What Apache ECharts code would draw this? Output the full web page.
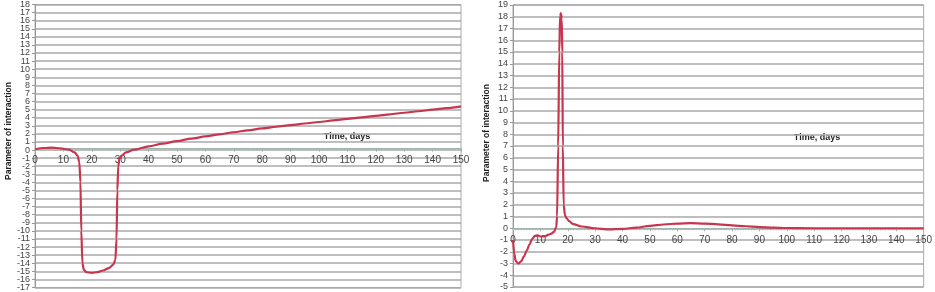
<!DOCTYPE html>
<html>
<head>
<meta charset="utf-8">
<script src="https://cdn.jsdelivr.net/npm/echarts@6/dist/echarts.min.js"></script>
<style>
  html, body { margin: 0; padding: 0; background: #fff; }
  #main { width: 935px; height: 292px; }
</style>
</head>
<body>
<div id="main"></div>
<script>
// left panel: parameter of interaction over time
var leftDays = [0, 3, 6, 9, 12, 14, 15, 15.6, 16, 16.3, 16.7, 17.2, 18, 20, 22, 24, 26, 27.5, 28.3, 28.7, 29, 29.3, 29.8, 30.5, 32, 35, 40, 45, 50, 55, 60, 65, 70, 75, 80, 85, 90, 95, 100, 105, 110, 115, 120, 125, 130, 135, 140, 145, 150];
var leftValues = [0.1, 0.25, 0.3, 0.2, 0.05, -0.3, -0.7, -1.5, -4, -10, -14, -14.8, -15.1, -15.2, -15.1, -14.9, -14.6, -14.2, -13.6, -11, -5, -2, -1, -0.7, -0.3, 0.05, 0.45, 0.8, 1.1, 1.4, 1.68, 1.95, 2.2, 2.44, 2.67, 2.88, 3.08, 3.28, 3.47, 3.66, 3.85, 4.04, 4.23, 4.42, 4.61, 4.8, 4.99, 5.18, 5.4];
var leftTicks = ['-17', '-16', '-15', '-14', '-13', '-12', '-11', '-10', '-9', '-8', '-7', '-6', '-5', '-4', '-3', '-2', '-1', '0', '1', '2', '3', '4', '5', '6', '7', '8', '9', '10', '11', '12', '13', '14', '15', '16', '17', '18'];

// right panel
var rightDays = [0, 0.5, 1, 2, 3, 4, 5, 6, 7, 8, 9, 10, 11, 12, 13, 14, 15, 15.8, 16.1, 16.5, 16.9, 17.2, 17.5, 17.8, 18.0, 18.2, 18.5, 19, 19.6, 20.5, 22, 25, 30, 35, 40, 45, 50, 55, 60, 65, 70, 75, 80, 85, 90, 95, 100, 110, 120, 130, 140, 150];
var rightValues = [-1.0, -2.2, -2.8, -3.0, -2.8, -2.4, -1.9, -1.4, -0.9, -0.65, -0.6, -0.7, -0.7, -0.65, -0.55, -0.45, -0.3, 0.1, 1, 7, 15, 18.1, 18.3, 17.8, 15, 7, 2, 1.1, 0.85, 0.6, 0.35, 0.15, 0, -0.1, -0.05, 0.05, 0.2, 0.32, 0.4, 0.43, 0.4, 0.33, 0.25, 0.17, 0.1, 0.05, 0.02, 0, 0, 0, 0, 0];
var rightTicks = ['-5', '-4', '-3', '-2', '-1', '0', '1', '2', '3', '4', '5', '6', '7', '8', '9', '10', '11', '12', '13', '14', '15', '16', '17', '18', '19'];

var xTitle = 'Time, days';
var yTitle = 'Parameter of interaction';

function pairs(xs, ys) {
    return xs.map(function (x, i) { return [x, ys[i]]; });
}

var lineColor = '#c8354e';
var gridColor = '#a8a8a8';
var labelFont = 'Liberation Sans';

// x axis sits on the zero line: shift it up from the grid bottom
function xAxisFor(idx, top, height, min, max) {
    var zeroY = top + height * max / (max - min);
    return {
        type: 'value', gridIndex: idx, min: 0, max: 150, interval: 10,
        position: 'bottom', offset: -(top + height - zeroY),
        axisLine: { onZero: false, lineStyle: { color: '#9fb0a8', width: 1 } },
        axisTick: { show: true, length: 3, lineStyle: { color: '#9fb0a8' } },
        minorTick: { show: true, splitNumber: 10, length: 2, lineStyle: { color: '#a8b8b0' } },
        splitLine: { show: false },
        axisLabel: { color: '#444', fontSize: 10, fontFamily: labelFont, margin: 7, showMinLabel: true, showMaxLabel: true }
    };
}

// value axis: scale, axis line and gridlines (labels drawn by the tick axis)
function yAxisFor(idx, min, max) {
    return {
        type: 'value', gridIndex: idx, min: min, max: max, interval: 1,
        axisLine: { show: true, lineStyle: { color: '#999', width: 1 } },
        axisTick: { show: true, length: 3, lineStyle: { color: '#999' } },
        splitLine: { show: true, lineStyle: { color: gridColor, width: 1.5 } },
        axisLabel: { show: false }
    };
}

// label-only axis so every integer label is shown
function tickAxisFor(idx, ticks) {
    return {
        type: 'category', gridIndex: idx, data: ticks, boundaryGap: false, position: 'left',
        axisLine: { show: false }, axisTick: { show: false }, splitLine: { show: false },
        axisLabel: { interval: 0, color: '#444', fontSize: 9, fontFamily: labelFont, margin: 5 }
    };
}

var leftMin = -17, leftMax = 18, rightMin = -5, rightMax = 19;

var option = {
    backgroundColor: '#fff',
    animation: false,
    grid: [
        { left: 35, right: 474, top: 3, height: 286, show: true, borderColor: '#aaa', borderWidth: 1 },
        { left: 513, right: 8, top: 5, height: 282, show: true, borderColor: '#aaa', borderWidth: 1 }
    ],
    xAxis: [xAxisFor(0, 3, 286, leftMin, leftMax), xAxisFor(1, 5, 282, rightMin, rightMax)],
    yAxis: [
        yAxisFor(0, leftMin, leftMax), yAxisFor(1, rightMin, rightMax),
        tickAxisFor(0, leftTicks), tickAxisFor(1, rightTicks)
    ],
    series: [
        {
            type: 'line', xAxisIndex: 0, yAxisIndex: 0,
            data: pairs(leftDays, leftValues),
            showSymbol: false, smooth: 0.3, smoothMonotone: 'x',
            lineStyle: { color: lineColor, width: 2.2 }
        },
        {
            type: 'line', xAxisIndex: 1, yAxisIndex: 1,
            data: pairs(rightDays, rightValues),
            showSymbol: false, smooth: 0.3, smoothMonotone: 'x',
            lineStyle: { color: lineColor, width: 2.2 }
        }
    ],
    graphic: [
        {
            type: 'text', x: 347, y: 137,
            style: {
                text: xTitle, font: 'bold 9px ' + labelFont, fill: '#222',
                align: 'center', verticalAlign: 'middle',
                backgroundColor: '#fff', padding: [2, 7]
            }
        },
        {
            type: 'text', x: 817, y: 138,
            style: {
                text: xTitle, font: 'bold 9px ' + labelFont, fill: '#222',
                align: 'center', verticalAlign: 'middle',
                backgroundColor: '#fff', padding: [2, 7]
            }
        },
        {
            type: 'text', x: 9, y: 131, rotation: Math.PI / 2,
            style: {
                text: yTitle, font: 'bold 8.5px ' + labelFont, fill: '#222',
                align: 'center', verticalAlign: 'middle'
            }
        },
        {
            type: 'text', x: 487, y: 133, rotation: Math.PI / 2,
            style: {
                text: yTitle, font: 'bold 8.5px ' + labelFont, fill: '#222',
                align: 'center', verticalAlign: 'middle'
            }
        }
    ]
};

var myChart = echarts.init(document.getElementById('main'));
myChart.setOption(option);
</script>
</body>
</html>
